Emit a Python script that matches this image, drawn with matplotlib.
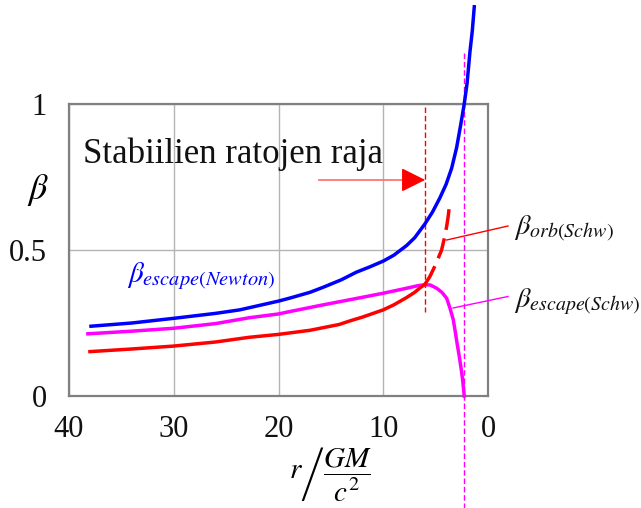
import numpy as np
import matplotlib.pyplot as plt
from matplotlib.lines import Line2D

plt.rcParams['font.family'] = ['Liberation Serif', 'DejaVu Serif']
plt.rcParams['mathtext.fontset'] = 'stix'

# values (r in GM/c^2, beta = v/c)
r_newton = [37.9, 34.0, 30.0, 26.0, 23.7, 20.0, 18.95, 17.0, 15.76, 14.0, 12.57, 11.3, 10.0, 9.0,
            7.78, 7.0, 6.03, 5.3, 4.6, 4.0, 3.47, 3.0, 2.6, 2.27, 2.0, 1.72, 1.5, 1.31]
b_newton = [0.239, 0.25, 0.266, 0.283, 0.295, 0.325, 0.335, 0.355, 0.372, 0.398, 0.424, 0.442, 0.462, 0.482,
            0.515, 0.542, 0.589, 0.63, 0.678, 0.725, 0.78, 0.85, 0.93, 1.0, 1.07, 1.18, 1.25, 1.333]

r_esc = [38.2, 34.0, 30.0, 26.0, 22.8, 20.0, 18.95, 15.76, 12.57, 10.0, 7.78, 6.67, 6.03, 5.5,
         4.9, 4.4, 3.95, 3.64, 3.32, 3.16, 2.95, 2.74, 2.55, 2.42, 2.27]
b_esc = [0.213, 0.222, 0.232, 0.248, 0.268, 0.281, 0.289, 0.312, 0.334, 0.352, 0.369, 0.378, 0.381, 0.38,
         0.369, 0.355, 0.335, 0.302, 0.262, 0.228, 0.18, 0.135, 0.09, 0.055, 0.0]

r_orb = [38.0, 34.0, 30.0, 26.0, 22.8, 20.0, 17.0, 14.2, 13.2, 12.0, 10.0, 9.0, 7.78, 7.0, 6.5, 6.03]
b_orb = [0.152, 0.161, 0.171, 0.185, 0.201, 0.211, 0.225, 0.245, 0.257, 0.27, 0.295, 0.312, 0.337, 0.355, 0.37, 0.382]

r_orb_unst = [6.03, 5.55, 5.0, 4.43, 4.2, 3.95, 3.8, 3.64]
b_orb_unst = [0.382, 0.409, 0.45, 0.5, 0.535, 0.58, 0.615, 0.665]

r_stable = 6.0
r_horizon = 2.27

W, H = 641, 508
fig = plt.figure(figsize=(W / 100, H / 100), dpi=100)
ax = fig.add_axes([69 / W, 1 - 396 / H, 419 / W, 292 / H])

def px(x, y):
    return x / W, 1 - y / H

ax.set_xlim(40, 0)
ax.set_ylim(0, 1)
ax.set_xticks([40, 30, 20, 10, 0])
ax.set_yticks([0, 0.5, 1])
ax.set_yticklabels(['0', '0.5', '1'])
ax.tick_params(length=0, labelsize=22, colors='#111111')
ax.tick_params(axis='x', pad=14)
ax.tick_params(axis='y', pad=16)
ax.grid(True, color='#b4b4b4', lw=1)
for s in ax.spines.values():
    s.set_color('#808080')
    s.set_linewidth(1.6)

ax.plot(r_newton, b_newton, color='#0000ff', lw=2.5, clip_on=False, zorder=5)
ax.plot(r_esc, b_esc, color='#ff00ff', lw=2.5, clip_on=False, zorder=5)
ax.plot(r_orb, b_orb, color='#ff0000', lw=2.5, clip_on=False, zorder=5)
ax.plot(r_orb_unst, b_orb_unst, color='#ff0000', lw=2.5, dashes=(6, 2.5), clip_on=False, zorder=5)

ax.plot([r_stable, r_stable], [0.99, 0.288], color='#ff0000', lw=1, dashes=(4, 2), clip_on=False, zorder=4)
ax.plot([r_horizon, r_horizon], [1.175, -0.384], color='#ff00ff', lw=1, dashes=(4, 2), clip_on=False, zorder=4)

# arrow: light shaft, solid head
ax.plot([16.1, 7.3], [0.74, 0.74], color='#ff6a6a', lw=1.2)
ax.annotate('', xy=(r_stable, 0.74), xytext=(7.6, 0.74),
            arrowprops=dict(arrowstyle='-|>,head_length=1.0,head_width=0.5',
                            color='#ff0000', lw=1, mutation_scale=15,
                            shrinkA=0, shrinkB=0))

fig.text(*px(83, 163), 'Stabiilien ratojen raja', fontsize=25, va='baseline', color='#111111')

fig.text(*px(38, 190), r'$\beta$', fontsize=26, ha='center', va='center')
fig.text(*px(330, 474), r'$r\left/\dfrac{GM}{c^2}\right.$', fontsize=21, ha='center', va='center')

fig.text(*px(127, 276), r'$\beta_{escape(Newton)}$', fontsize=21, color='#0000ff', va='center')
fig.text(*px(514, 229), r'$\beta_{orb(Schw)}$', fontsize=20.5, color='#111111', va='center')
fig.text(*px(514, 302), r'$\beta_{escape(Schw)}$', fontsize=20.5, color='#111111', va='center')

fig.add_artist(Line2D([px(446.7, 240)[0], px(508, 226)[0]], [px(446.7, 240)[1], px(508, 226)[1]],
                      color='#ff0000', lw=1))
fig.add_artist(Line2D([px(453, 308)[0], px(508, 296.5)[0]], [px(453, 308)[1], px(508, 296.5)[1]],
                      color='#ff00ff', lw=1))

fig.savefig('out.png', dpi=100)
